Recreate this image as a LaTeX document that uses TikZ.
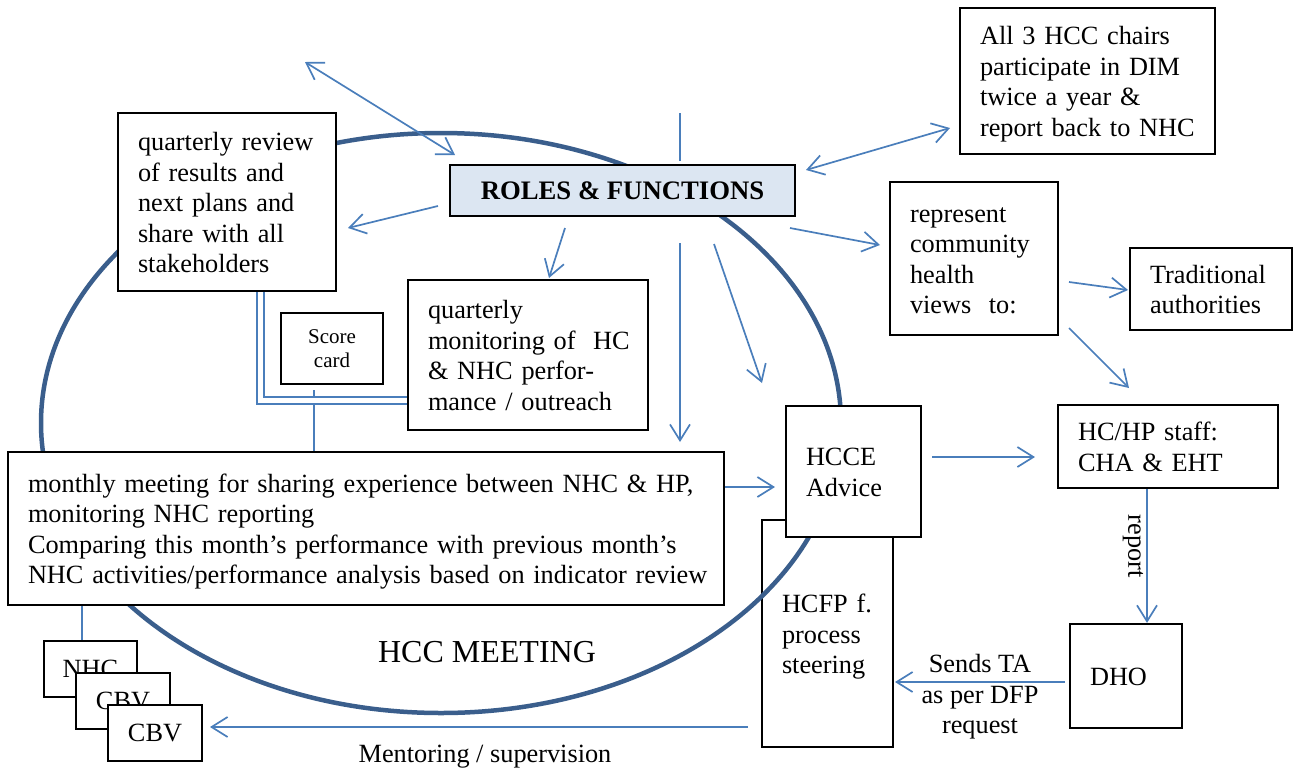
\documentclass[tikz,border=0pt]{standalone}
\usepackage{fontspec}
\setmainfont{Liberation Serif}
\usetikzlibrary{arrows.meta}
\definecolor{arrowblue}{RGB}{74,126,187}
\definecolor{ringblue}{RGB}{58,94,140}
\definecolor{rolefill}{RGB}{220,230,242}
% a left-aligned block of fixed lines that never rebreaks, set a little low
\newcommand\boxlines[1]{\raisebox{-3.5pt}[\height][\depth]{\begin{tabular}{@{}l@{}}#1\end{tabular}}}
\begin{document}
\begin{tikzpicture}[x=1pt,y=-1pt,
  txt/.style={font=\fontsize{26.3}{30.5}\selectfont},
  box/.style={txt, draw=black, line width=2.2pt, fill=white, align=left,
    inner xsep=20pt, inner ysep=0pt},
  cbox/.style={txt, draw=black, line width=2.2pt, fill=white, align=center,
    inner sep=0pt},
  lbl/.style={txt, inner sep=0pt},
  barb/.tip={Straight Barb[length=16pt,width=20pt]},
  flow/.style={draw=arrowblue, line width=1.7pt, -barb},
  twoway/.style={draw=arrowblue, line width=1.7pt, barb-barb},
  plain/.style={draw=arrowblue, line width=1.7pt},
  link/.style={draw=arrowblue, line width=1.3pt},
  twin/.style={draw=arrowblue, line width=1.3pt, double=white, double distance=5.5pt},
]
\useasboundingbox (0,0) rectangle (1293,772);

% process steering box sits under the meeting ring
\node[box, text width=91pt, minimum height=227pt] (hcfp) at (827.5,633.5)
  {\boxlines{HCFP f.\\process\\steering}};

% the HCC meeting ring
\draw[ringblue, line width=4.5pt] (441,423) ellipse [x radius=400pt, y radius=290pt];

% boxes
\node[box, text width=178pt, minimum height=178pt] (qrev) at (227,202)
  {\boxlines{quarterly review\\of results and\\next plans and\\share with all\\stakeholders}};
\node[cbox, fill=rolefill, font=\fontsize{26.7}{30.5}\selectfont\bfseries,
  minimum width=345pt, minimum height=51pt] (roles) at (622.5,190.5)
  {ROLES \& FUNCTIONS};
\node[box, text width=215pt, minimum height=146pt] (all3) at (1087.5,81)
  {\boxlines{All 3 HCC chairs\\participate in DIM\\twice a year \&\\report back to NHC}};
\node[box, text width=128pt, minimum height=153pt] (repr) at (974,258.5)
  {\boxlines{represent\\community\\health\\views\ \ to:}};
\node[box, text width=122pt, minimum height=82pt] (trad) at (1211,289)
  {\boxlines{Traditional\\authorities}};
\node[box, text width=200pt, minimum height=150pt] (mon) at (528,355)
  {\boxlines{quarterly\\monitoring of\ \ HC\\\& NHC perfor-\\mance / outreach}};
\node[cbox, font=\fontsize{21}{24}\selectfont, minimum width=102pt,
  minimum height=71pt] (score) at (332,348.5) {Score\\card};
\node[box, text width=676pt, minimum height=153pt] (monthly) at (366,528.5)
  {\boxlines{monthly meeting for sharing experience between NHC \& HP,\\
   monitoring NHC reporting\\
   Comparing this month’s performance with previous month’s\\
   NHC activities/performance analysis based on indicator review}};
\node[box, text width=95pt, minimum height=131pt] (hcce) at (853.5,471.5)
  {\boxlines{HCCE\\Advice}};
\node[box, text width=180pt, minimum height=83pt] (hchp) at (1168,446.5)
  {\boxlines{HC/HP staff:\\CHA \& EHT}};
\node[box, text width=72pt, minimum height=104pt] (dho) at (1126,676) {\boxlines{DHO}};
\node[cbox, minimum width=93pt, minimum height=56pt] (nhc) at (90.5,669) {NHC};
\node[cbox, minimum width=94pt, minimum height=56pt] (cbvA) at (123,701) {CBV};
\node[cbox, minimum width=94pt, minimum height=56pt] (cbvB) at (155,733) {CBV};

% free labels
\node[lbl, font=\fontsize{32}{36}\selectfont] (hccm) at (487,652) {HCC MEETING};
\node[lbl] (ment) at (485,757) {Mentoring / supervision};
\node[lbl, align=center] (sends) at (980,697) {Sends TA\\as per DFP\\request};
\node[lbl, rotate=-90] (rep) at (1133,546) {report};

% connector end points
\coordinate (upL) at (305,62);
\coordinate (rolesNW) at (455,155);
\coordinate (rolesNE) at (806,170);
\coordinate (all3W) at (950,128);
\coordinate (topStub) at (680,113);
\coordinate (rolesTop) at (680,161);
\coordinate (rolesW) at (438,206);
\coordinate (qrevE) at (348,228);
\coordinate (rolesS1) at (565,228);
\coordinate (monN) at (549,278);
\coordinate (rolesS2) at (680,243);
\coordinate (monthlyNE) at (680,442);
\coordinate (rolesS3) at (714,244);
\coordinate (hcceNW) at (762,383);
\coordinate (rolesE) at (790,228);
\coordinate (reprW) at (880,245);
\coordinate (reprE1) at (1069,282);
\coordinate (tradW) at (1128,290);
\coordinate (reprE2) at (1069,328);
\coordinate (hchpNW) at (1129,388);
\coordinate (hcceW) at (775,487);
\coordinate (hcceE) at (932,457);
\coordinate (hchpW) at (1035,457);
\coordinate (dhoW) at (1065,682);
\coordinate (hcfpE) at (895,682);
\coordinate (hcfpW) at (748,727);
\coordinate (cbvE) at (210,727);
\coordinate (scoreS) at (314,390);
\coordinate (stackX) at (82,0);
\coordinate (reportX) at (1147,0);
\coordinate (twinX) at (260.5,0);
\coordinate (twinY) at (0,400.5);

% connectors
\draw[twoway] (upL) -- (rolesNW);
\draw[twoway] (rolesNE) -- (all3W);
\draw[plain] (topStub) -- (rolesTop);
\draw[flow] (rolesW) -- (qrevE);
\draw[flow] (rolesS1) -- (monN);
\draw[flow] (rolesS2) -- (monthlyNE);
\draw[flow] (rolesS3) -- (hcceNW);
\draw[flow] (rolesE) -- (reprW);
\draw[flow] (reprE1) -- (tradW);
\draw[flow] (reprE2) -- (hchpNW);
\draw[flow] (monthly.east |- hcceW) -- (hcceW);
\draw[flow] (hcceE) -- (hchpW);
\draw[flow] (hchp.south -| reportX) -- (dho.north -| reportX);
\draw[flow] (dhoW) -- (hcfpE);
\draw[flow] (hcfpW) -- (cbvE);
\draw[link] (scoreS) -- (scoreS |- monthly.north);
\draw[link] (monthly.south -| stackX) -- (nhc.north -| stackX);
\draw[twin] (qrev.south -| twinX) |- (mon.west |- twinY);
\end{tikzpicture}
\end{document}
